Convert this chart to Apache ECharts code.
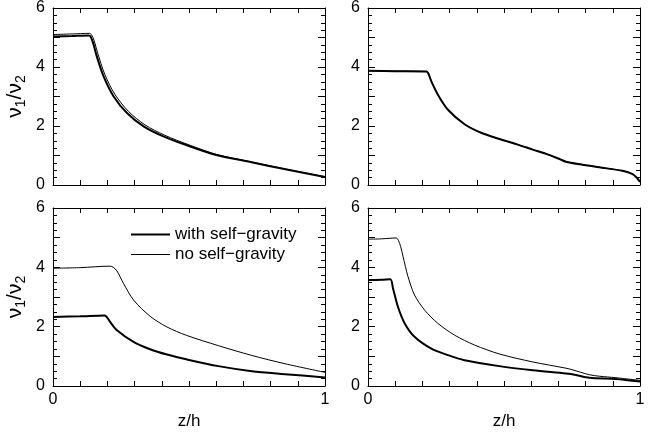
<!DOCTYPE html>
<html>
<head>
<meta charset="utf-8">
<script src="https://cdn.jsdelivr.net/npm/echarts@6/dist/echarts.min.js"></script>
<style>
html,body{margin:0;padding:0;background:#fff;}
#c{width:654px;height:435px;}
</style>
</head>
<body>
<div id="c"></div>
<script>
// ---- data ([z/h, nu1/nu2]) ----
const topLeftWith = [[0,5.03],[0.07,5.05],[0.132,5.07],[0.139,5.02],[0.148,4.8],[0.161,4.36],[0.186,3.68],[0.223,3.0],[0.272,2.44],[0.333,1.99],[0.406,1.65],[0.5,1.32],[0.6,1.02],[0.73,0.77],[0.85,0.54],[1,0.27]];
const topLeftNo = [[0,5.1],[0.07,5.12],[0.134,5.14],[0.141,5.1],[0.151,4.9],[0.164,4.48],[0.19,3.76],[0.227,3.08],[0.277,2.5],[0.338,2.04],[0.41,1.69],[0.5,1.36],[0.6,1.04],[0.73,0.78],[0.85,0.55],[1,0.28]];
const topRightWith = [[0,3.87],[0.1,3.86],[0.215,3.85],[0.222,3.78],[0.233,3.51],[0.257,3.06],[0.294,2.55],[0.355,2.06],[0.416,1.77],[0.483,1.56],[0.55,1.37],[0.606,1.2],[0.66,1.04],[0.704,0.88],[0.728,0.79],[0.78,0.7],[0.85,0.6],[0.936,0.48],[0.973,0.37],[0.99,0.23],[1,0.1]];
const topRightNo = [[0,3.87],[0.1,3.86],[0.215,3.85],[0.222,3.78],[0.233,3.51],[0.257,3.06],[0.294,2.55],[0.355,2.06],[0.416,1.77],[0.483,1.56],[0.55,1.37],[0.606,1.2],[0.66,1.04],[0.704,0.88],[0.728,0.79],[0.78,0.7],[0.85,0.6],[0.936,0.48],[0.973,0.37],[0.99,0.23],[1,0.1]];
const bottomLeftWith = [[0,2.33],[0.1,2.35],[0.19,2.38],[0.2,2.3],[0.21,2.16],[0.235,1.88],[0.296,1.49],[0.357,1.24],[0.419,1.06],[0.49,0.9],[0.608,0.67],[0.731,0.5],[0.853,0.4],[1,0.29]];
const bottomLeftNo = [[0,3.97],[0.1,3.99],[0.21,4.04],[0.222,4.0],[0.235,3.88],[0.259,3.46],[0.296,2.9],[0.357,2.35],[0.419,1.99],[0.49,1.71],[0.608,1.36],[0.731,1.03],[0.853,0.75],[1,0.46]];
const bottomRightWith = [[0,3.57],[0.05,3.58],[0.082,3.6],[0.092,3.29],[0.11,2.67],[0.135,2.11],[0.171,1.66],[0.233,1.26],[0.294,1.04],[0.355,0.87],[0.483,0.67],[0.606,0.53],[0.728,0.42],[0.76,0.38],[0.814,0.28],[0.911,0.24],[1,0.15]];
const bottomRightNo = [[0,4.95],[0.05,4.96],[0.104,4.99],[0.112,4.9],[0.12,4.7],[0.129,4.36],[0.147,3.69],[0.171,3.07],[0.208,2.56],[0.257,2.11],[0.319,1.71],[0.392,1.38],[0.483,1.08],[0.606,0.81],[0.728,0.6],[0.75,0.55],[0.814,0.38],[0.85,0.33],[0.911,0.28],[1,0.19]];
const seriesNames = ['with self-gravity', 'no self-gravity'];
const legendLabels = ['with self\u2212gravity', 'no self\u2212gravity'];
const xAxisTitle = 'z/h';
const xTickLabels = [0, 1];
const yTickLabels = [0, 2, 4, 6];

const FONT = 'Liberation Sans, Arial, Helvetica, sans-serif';
const FS = 16;
const LW = [2, 1];
const panels = [
  {grid:{left:53, top:8, width:272, height:177}, data:[topLeftWith, topLeftNo], xLabels:false, yName:true},
  {grid:{left:368, top:8, width:272, height:177}, data:[topRightWith, topRightNo], xLabels:false, yName:false},
  {grid:{left:53, top:208, width:272, height:178}, data:[bottomLeftWith, bottomLeftNo], xLabels:true, yName:true},
  {grid:{left:368, top:208, width:272, height:178}, data:[bottomRightWith, bottomRightNo], xLabels:true, yName:false}
];
const axisLine = {show:true, onZero:false, lineStyle:{color:'#000', width:1}};
const grids = [], xAxes = [], yAxes = [], series = [];
panels.forEach((p, i) => {
  grids.push(Object.assign({containLabel:false}, p.grid));
  const xBase = {
    type:'value', gridIndex:i, min:0, max:1, interval:0.1,
    axisLine, splitLine:{show:false},
    axisTick:{show:true, inside:true, length:5, lineStyle:{color:'#000'}}
  };
  xAxes.push(Object.assign({}, xBase, {
    position:'bottom',
    name: p.xLabels ? xAxisTitle : '',
    nameLocation:'middle', nameGap:27,
    nameTextStyle:{fontFamily:FONT, fontSize:17, color:'#000'},
    axisLabel:{show:p.xLabels, margin:6, fontFamily:FONT, fontSize:FS, color:'#000',
      formatter: v => xTickLabels.some(t => Math.abs(t - v) < 1e-9) ? String(Math.round(v)) : ''}
  }));
  xAxes.push(Object.assign({}, xBase, {position:'top', axisLabel:{show:false}}));
  const yBase = {
    type:'value', gridIndex:i, min:0, max:6, interval:1,
    axisLine, splitLine:{show:false}, minorSplitLine:{show:false},
    axisTick:{show:true, inside:true, length:7, lineStyle:{color:'#000'}},
    minorTick:{show:true, splitNumber:4, length:4, lineStyle:{color:'#000'}}
  };
  yAxes.push(Object.assign({}, yBase, {
    position:'left',
    name: p.yName ? '{n|ν}{s|1}{n|/ν}{s|2}' : '',
    nameLocation:'middle', nameRotate:90, nameGap:25,
    nameTextStyle:{color:'#000', rich:{
      n:{fontFamily:FONT, fontSize:21, lineHeight:26, verticalAlign:'middle', color:'#000'},
      s:{fontFamily:FONT, fontSize:14, lineHeight:14, verticalAlign:'bottom', color:'#000'}
    }},
    axisLabel:{show:true, margin:8, fontFamily:FONT, fontSize:FS, color:'#000',
      formatter: v => yTickLabels.indexOf(v) >= 0 ? String(v) : ''}
  }));
  yAxes.push(Object.assign({}, yBase, {position:'right', axisLabel:{show:false}}));
  p.data.forEach((d, k) => {
    series.push({
      type:'line', name:seriesNames[k], xAxisIndex:2*i, yAxisIndex:2*i,
      data:d, symbol:'none', showSymbol:false, smooth:0.3,
      lineStyle:{color:'#000', width:LW[k]},
      itemStyle:{color:'#000'}, z: k === 0 ? 3 : 2, silent:true, animation:false
    });
  });
});

const chart = echarts.init(document.getElementById('c'), null, {renderer:'canvas'});
chart.setOption({
  animation:false,
  backgroundColor:'#fff',
  legend:{
    show:true,
    data:seriesNames.map((n, k) => ({name:n, lineStyle:{color:'#000', width:LW[k]}})),
    orient:'vertical', left:125, top:221,
    itemWidth:39, itemHeight:18, itemGap:3,
    itemStyle:{color:'rgba(0,0,0,0)', borderColor:'rgba(0,0,0,0)', borderWidth:0, opacity:0},
    formatter: name => legendLabels[seriesNames.indexOf(name)],
    textStyle:{fontFamily:FONT, fontSize:17, color:'#000'},
    selectedMode:false
  },
  grid:grids, xAxis:xAxes, yAxis:yAxes, series
});
</script>
</body>
</html>
